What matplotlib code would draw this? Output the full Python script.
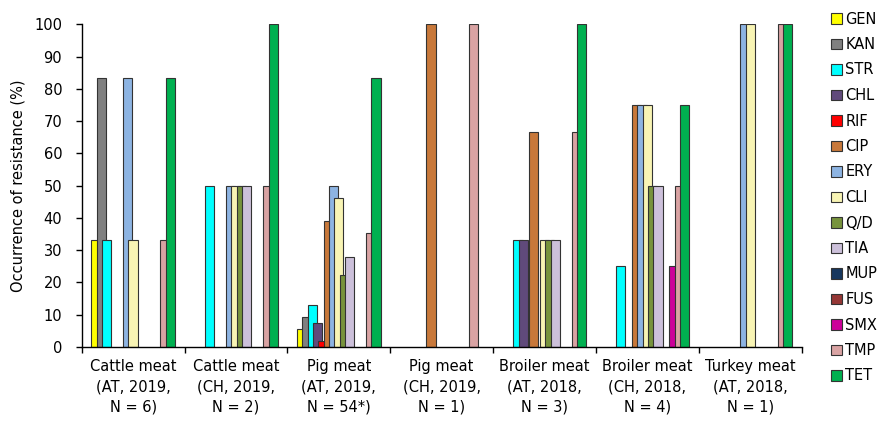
import matplotlib
matplotlib.use('Agg')
import matplotlib.pyplot as plt
import numpy as np

plt.rcParams['font.family'] = ['DejaVu Sans']

# Categories (meat type, country, year, number of isolates)
categories = ['Cattle meat\n(AT, 2019,\nN = 6)', 'Cattle meat\n(CH, 2019,\nN = 2)',
              'Pig meat\n(AT, 2019,\nN = 54*)', 'Pig meat\n(CH, 2019,\nN = 1)',
              'Broiler meat\n(AT, 2018,\nN = 3)', 'Broiler meat\n(CH, 2018,\nN = 4)',
              'Turkey meat\n(AT, 2018,\nN = 1)']

# Resistance (%) per antimicrobial, one value per category
gen = [33.3, 0, 5.6, 0, 0, 0, 0]
kan = [83.3, 0, 9.3, 0, 0, 0, 0]
str_ = [33.3, 50, 13.0, 0, 33.3, 25, 0]
chl = [0, 0, 7.4, 0, 33.3, 0, 0]
rif = [0, 0, 1.9, 0, 0, 0, 0]
cip = [0, 0, 38.9, 100, 66.7, 75, 0]
ery = [83.3, 50, 50.0, 0, 0, 75, 100]
cli = [33.3, 50, 46.3, 0, 33.3, 75, 100]
qd = [0, 50, 22.2, 0, 33.3, 50, 0]
tia = [0, 50, 27.8, 0, 33.3, 50, 0]
mup = [0, 0, 0, 0, 0, 0, 0]
fus = [0, 0, 0, 0, 0, 0, 0]
smx = [0, 0, 0, 0, 0, 25, 0]
tmp = [33.3, 50, 35.2, 100, 66.7, 50, 100]
tet = [83.3, 100, 83.3, 0, 100, 75, 100]

names = ['GEN', 'KAN', 'STR', 'CHL', 'RIF', 'CIP', 'ERY', 'CLI',
         'Q/D', 'TIA', 'MUP', 'FUS', 'SMX', 'TMP', 'TET']
series = [gen, kan, str_, chl, rif, cip, ery, cli, qd, tia, mup, fus, smx, tmp, tet]
colors = ['#FFFF00', '#808080', '#00FFFF', '#604A7B', '#FF0000', '#C8783A',
          '#8DB4E2', '#F8F4B4', '#77933C', '#CCC0DA', '#17375E', '#953735',
          '#CC0099', '#D9A3A3', '#00B050']

fig = plt.figure(figsize=(8.82, 4.21), dpi=100)
ax = fig.add_axes([0.0926, 0.1758, 0.8163, 0.7665])

centers = np.arange(len(categories)) + 0.5
width = 0.090   # bar width (overlapping bars)
step = 0.0518   # shift between consecutive series

for j, (name, vals, col) in enumerate(zip(names, series, colors)):
    vals = np.array(vals, dtype=float)
    xs = centers + (j - 7) * step
    mask = vals > 0
    ax.bar(xs[mask], vals[mask], width=width, color=col, edgecolor='#333333',
           linewidth=0.8, align='center')
    # empty bar just for the legend entry
    ax.bar([np.nan], [np.nan], width=width, color=col, edgecolor='#333333',
           linewidth=0.8, label=name)

ax.set_xlim(0, len(categories))
ax.set_ylim(0, 100)
ax.set_yticks(np.arange(0, 101, 10))

# category borders get tick marks, labels sit in the middle
ax.set_xticks(np.arange(0, len(categories) + 1))
ax.set_xticklabels([])
ax.set_xticks(centers, minor=True)
ax.set_xticklabels(categories, minor=True, fontsize=10.5, linespacing=1.4)
ax.tick_params(axis='x', which='major', direction='out', length=4, width=1)
ax.tick_params(axis='x', which='minor', length=0, pad=9)
ax.tick_params(axis='y', direction='out', length=4, width=1, pad=10, labelsize=10.5)

for s in ['top', 'right']:
    ax.spines[s].set_visible(False)
for s in ['left', 'bottom']:
    ax.spines[s].set_linewidth(1)
    ax.spines[s].set_color('black')

ax.set_ylabel('Occurrence of resistance (%)', fontsize=10.5, va='center')
ax.yaxis.set_label_coords(-0.0885, 0.5)

fig.legend(loc='upper left', bbox_to_anchor=(830.7 / 882, (421 - 11.5) / 421),
           frameon=False, fontsize=10.5, handlelength=0.75, handleheight=0.75,
           handletextpad=0.25, labelspacing=0.72, borderpad=0, borderaxespad=0)

fig.savefig('out.png', dpi=100)
